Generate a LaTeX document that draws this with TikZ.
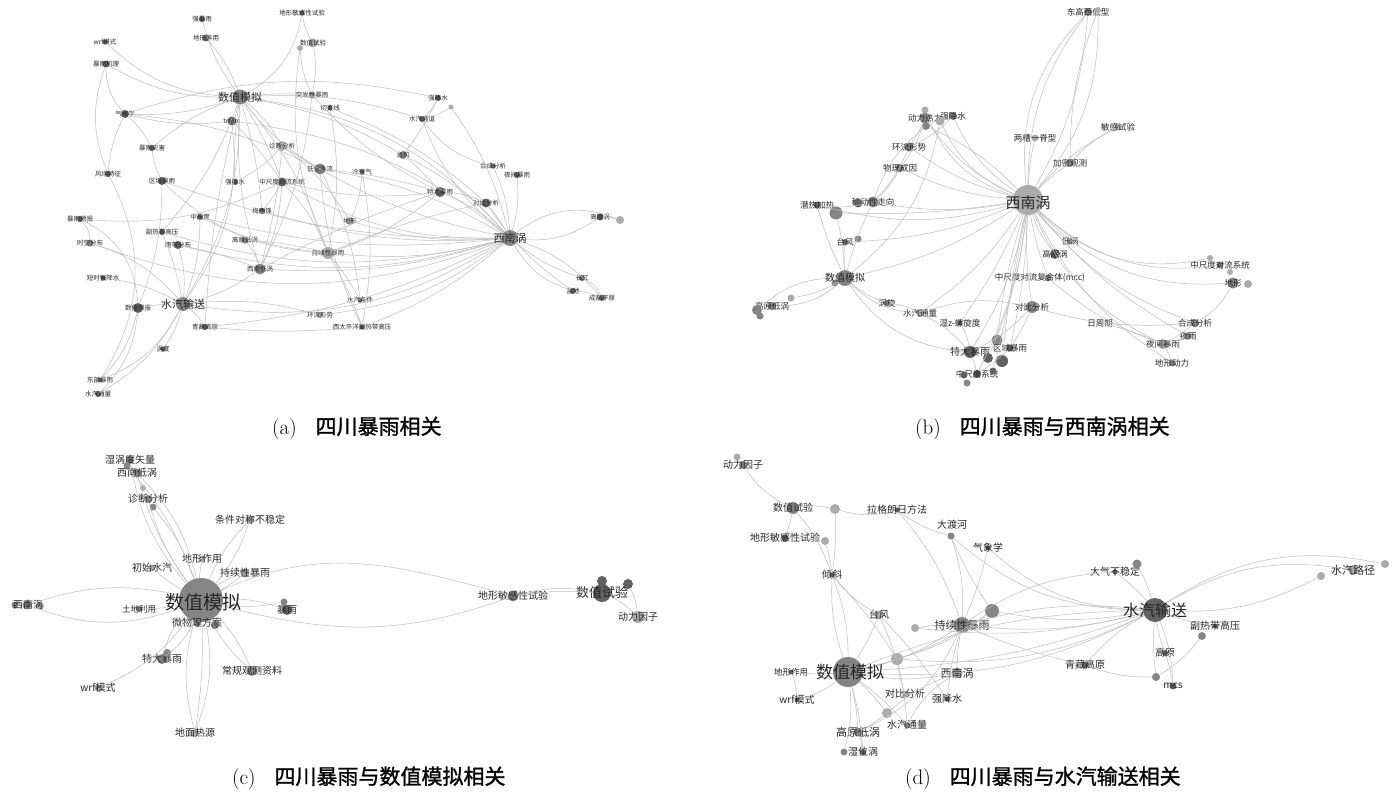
\documentclass[tikz,border=0pt]{standalone}
\usepackage{fontspec}
\newfontfamily\cjk{Noto Sans CJK SC}
\newfontfamily\cjkb{Noto Sans CJK SC}[FakeBold=1.3]
\definecolor{edgc}{gray}{0.74}
\tikzset{
  vd/.style={circle,inner sep=0pt,minimum size=#1,fill=black!62,draw=none},
  vm/.style={circle,inner sep=0pt,minimum size=#1,fill=black!48,draw=none},
  vl/.style={circle,inner sep=0pt,minimum size=#1,fill=black!33,draw=none},
  edg/.style={draw=edgc,line width=0.5pt},
  la/.style={font={\cjk\fontsize{6.5}{7}\selectfont},text=black!85,inner sep=0pt},
  lb/.style={font={\cjk\fontsize{8.5}{9}\selectfont},text=black!85,inner sep=0pt},
  lc/.style={font={\cjk\fontsize{10}{11}\selectfont},text=black!85,inner sep=0pt},
  lbig/.style={font={\cjk\fontsize{11}{12}\selectfont},text=black!85,inner sep=0pt},
  lhuge/.style={font={\cjk\fontsize{19}{20}\selectfont},text=black!85,inner sep=0pt},
  lmain/.style={font={\cjk\fontsize{17}{18}\selectfont},text=black!85,inner sep=0pt},
  captxt/.style={font={\fontsize{21}{22}\selectfont},text=black,inner sep=0pt}
}
\newcommand\V[6]{\node[#5=#4,label={[#6]center:#2}] (#1) at (#3) {};}
\newcommand\W[4]{\node[#4=#3] (#1) at (#2) {};}
\newcommand\E[3]{\draw[edg] (#1) to[bend left=#3] (#2);}
\begin{document}
\begin{tikzpicture}[x=1pt,y=-1pt]
\useasboundingbox[fill=white] (0,0) rectangle (1395,792);

% ================= (a) =================
\W{a1}{240,97}{15}{vm}
\V{a2}{trmm}{232,121}{9}{vd}{la}
\V{a3}{强暴雨}{202,19}{6}{vd}{la}
\V{a4}{地形作用}{206,38}{7}{vd}{la}
\V{a5}{地形敏感性试验}{302,13}{5}{vd}{la}
\V{a6}{数值试验}{313,43}{9}{vl}{la}
\W{a6b}{300,48}{6}{vl}
\V{a7}{wrf模式}{105,42}{5}{vd}{la}
\V{a8}{暴雨机理}{106,64}{7}{vd}{la}
\V{a9}{气候学}{125,114}{8}{vd}{la}
\V{a10}{突发性暴雨}{312,95}{7}{vl}{la}
\V{a11}{切变线}{330,108}{5}{vd}{la}
\V{a12}{暴雨灾害}{152,148}{6}{vd}{la}
\V{a13}{诊断分析}{282,146}{10}{vl}{la}
\V{a14}{风场特征}{108,174}{6}{vd}{la}
\V{a15}{区域暴雨}{162,181}{8}{vd}{la}
\V{a16}{强降水}{235,182}{6}{vd}{la}
\V{a17}{中尺度对流系统}{282,182}{9}{vd}{la}
\V{a18}{低空急流}{320,169}{11}{vm}{la}
\V{a19}{冷空气}{362,172}{5}{vd}{la}
\V{a20}{暴雨预报}{80,219}{6}{vd}{la}
\V{a21}{中尺度}{200,217}{6}{vd}{la}
\V{a22}{梅雨锋}{262,211}{6}{vd}{la}
\V{a23}{地形}{350,221}{8}{vl}{la}
\V{a24}{副热带高压}{162,232}{6}{vd}{la}
\V{a25}{高原低涡}{245,240}{7}{vm}{la}
\V{a26}{时空分布}{90,243}{7}{vm}{la}
\V{a27}{雨带分布}{178,245}{8}{vd}{la}
\V{a28}{持续性暴雨}{328,253}{12}{vl}{la}
\V{a29}{西南低涡}{260,269}{11}{vm}{la}
\V{a30}{短时强降水}{103,278}{5}{vd}{la}
\V{a31}{水汽条件}{360,300}{5}{vd}{la}
\V{a32}{数值预报}{138,308}{10}{vd}{la}
\W{a33}{183,304}{14}{vm}
\V{a34}{环流形势}{320,315}{6}{vl}{la}
\V{a35}{青藏高原}{205,327}{6}{vd}{la}
\V{a36}{西太平洋副热带高压}{362,327}{5}{vd}{la}
\V{a37}{涡度}{163,349}{5}{vd}{la}
\V{a38}{东部暴雨}{100,380}{5}{vd}{la}
\V{a39}{水汽通量}{98,394}{6}{vd}{la}
\V{a40}{强降水}{438,98}{6}{vd}{la}
\W{a41}{451,107}{5}{vl}
\V{a42}{水汽通道}{422,119}{6}{vd}{la}
\V{a43}{台风}{403,155}{8}{vm}{la}
\V{a44}{合成分析}{493,166}{5}{vd}{la}
\V{a45}{夜间暴雨}{517,175}{6}{vd}{la}
\V{a46}{特大暴雨}{440,192}{10}{vd}{la}
\V{a47}{对比分析}{486,203}{9}{vd}{la}
\W{a48}{510,238}{16}{vm}
\V{a49}{高原涡}{600,217}{7}{vd}{la}
\W{a50}{620,220}{8}{vl}
\V{a51}{长江}{582,278}{6}{vd}{la}
\V{a52}{盆地}{573,291}{6}{vd}{la}
\V{a53}{成都平原}{602,298}{6}{vd}{la}

\E{a1}{a3}{10}\E{a1}{a4}{-10}\E{a1}{a5}{-25}\E{a1}{a7}{20}\E{a1}{a8}{15}
\E{a1}{a9}{10}\E{a1}{a10}{5}\E{a1}{a13}{10}\E{a1}{a17}{5}\E{a1}{a16}{-5}
\E{a1}{a28}{10}\E{a1}{a29}{-10}\E{a1}{a33}{15}\E{a1}{a48}{20}\E{a1}{a18}{-10}
\E{a1}{a43}{10}\E{a1}{a24}{10}\E{a1}{a12}{-10}\E{a1}{a35}{-5}\E{a1}{a22}{5}
\E{a2}{a17}{5}\E{a2}{a33}{20}\E{a2}{a48}{15}\E{a2}{a9}{10}
\E{a9}{a8}{20}\E{a9}{a14}{-10}\E{a9}{a18}{10}\E{a9}{a40}{15}\E{a9}{a12}{10}
\E{a6}{a10}{10}\E{a6}{a5}{10}\E{a6b}{a28}{-15}\E{a6b}{a10}{-10}
\E{a10}{a29}{10}\E{a10}{a46}{-10}\E{a11}{a28}{10}\E{a11}{a47}{10}
\E{a13}{a29}{5}\E{a13}{a48}{-10}\E{a13}{a23}{10}\E{a13}{a16}{10}
\E{a15}{a32}{10}\E{a15}{a12}{10}\E{a15}{a28}{-20}\E{a15}{a48}{-10}
\E{a17}{a28}{10}\E{a17}{a29}{10}\E{a17}{a46}{-10}\E{a17}{a48}{-15}\E{a17}{a22}{5}
\E{a18}{a48}{10}\E{a18}{a46}{5}\E{a18}{a31}{10}\E{a18}{a36}{-10}
\E{a19}{a23}{10}\E{a19}{a36}{10}
\E{a20}{a26}{20}\E{a20}{a32}{30}\E{a20}{a17}{-15}
\E{a21}{a33}{10}\E{a21}{a28}{-10}\E{a21}{a48}{-10}
\E{a22}{a48}{-10}\E{a23}{a48}{-10}\E{a24}{a48}{-15}\E{a24}{a33}{5}
\E{a25}{a29}{10}\E{a25}{a28}{5}
\E{a27}{a33}{10}\E{a27}{a48}{-15}\E{a27}{a29}{5}
\E{a28}{a48}{-10}\E{a28}{a47}{5}\E{a28}{a46}{-10}\E{a28}{a36}{5}\E{a28}{a31}{5}
\E{a29}{a48}{-10}\E{a29}{a33}{10}\E{a29}{a46}{5}
\E{a30}{a33}{10}\E{a26}{a33}{15}\E{a26}{a48}{-20}
\E{a32}{a33}{5}\E{a32}{a38}{15}\E{a32}{a39}{20}\E{a33}{a38}{20}\E{a33}{a39}{15}
\E{a33}{a48}{-20}\E{a33}{a35}{10}\E{a33}{a37}{10}\E{a35}{a48}{-10}\E{a35}{a36}{-5}
\E{a34}{a48}{-15}\E{a34}{a33}{-10}\E{a36}{a48}{-10}
\E{a40}{a42}{10}\E{a42}{a1}{-10}\E{a42}{a48}{-15}\E{a41}{a48}{10}\E{a41}{a42}{10}\E{a40}{a43}{5}
\E{a43}{a48}{10}\E{a43}{a46}{5}\E{a44}{a48}{10}\E{a45}{a48}{10}\E{a44}{a42}{20}
\E{a46}{a48}{10}\E{a47}{a48}{5}\E{a46}{a47}{10}
\E{a48}{a49}{-20}\E{a48}{a50}{30}\E{a49}{a50}{10}
\E{a48}{a51}{-10}\E{a48}{a52}{-20}\E{a48}{a53}{15}\E{a51}{a53}{20}\E{a52}{a53}{10}\E{a47}{a52}{-10}
\E{a14}{a38}{30}\E{a8}{a14}{-20}

\node[lbig] (a1t) at (240,97) {数值模拟};
\node[lbig] (a33t) at (183,304) {水汽输送};
\node[lbig] (a48t) at (510,238) {西南涡};

% ================= (b) =================
\V{b1}{东高西低型}{1088,12}{8}{vm}{lb}
\W{b1b}{1098,10}{6}{vl}
\V{b2}{动力热力}{925,118}{11}{vm}{lb}
\W{b2b}{926,126}{8}{vm}
\W{b2c}{925,110}{7}{vl}
\V{b3}{强降水}{953,116}{8}{vm}{lb}
\W{b3b}{940,121}{9}{vl}
\V{b4}{两槽一脊型}{1035,138}{7}{vl}{lb}
\V{b5}{敏感试验}{1118,127}{7}{vl}{lb}
\V{b6}{环流形势}{909,147}{9}{vm}{lb}
\V{b7}{加密观测}{1070,163}{8}{vm}{lb}
\V{b8}{物理成因}{900,168}{8}{vm}{lb}
\W{b9}{1028,200}{30}{vl}
\V{b10}{移动性走向}{873,202}{11}{vm}{lb}
\W{b10b}{858,203}{9}{vd}
\V{b11}{潜热加热}{817,205}{7}{vd}{lb}
\W{b11b}{836,213}{13}{vm}
\V{b12}{台风}{845,242}{6}{vd}{lb}
\W{b12b}{858,239}{7}{vm}
\W{b13}{845,278}{16}{vm}
\W{b13b}{835,283}{7}{vm}
\V{b14}{高原低涡}{772,306}{8}{vm}{lb}
\W{b14b}{757,310}{10}{vm}
\W{b14c}{760,316}{7}{vm}
\W{b14d}{791,298}{7}{vl}
\V{b15}{涡旋}{887,303}{6}{vm}{lb}
\V{b16}{水汽通量}{920,313}{8}{vl}{lb}
\V{b17}{湿z-螺旋度}{960,323}{5}{vd}{lb}
\V{b18}{对比分析}{1032,307}{12}{vm}{lb}
\V{b19}{特大暴雨}{970,352}{12}{vd}{lc}
\W{b19b}{997,340}{11}{vm}
\W{b19c}{1002,361}{12}{vd}
\W{b19d}{988,358}{10}{vd}
\V{b20}{区域暴雨}{1010,348}{7}{vd}{lb}
\V{b21}{中尺度系统}{977,374}{8}{vd}{lb}
\W{b21b}{964,375}{7}{vd}
\W{b21c}{967,383}{7}{vm}
\W{b21d}{993,371}{7}{vd}
\V{b22}{高原涡}{1055,254}{10}{vd}{lb}
\V{b23}{低涡}{1070,241}{6}{vm}{lb}
\W{b24}{1048,278}{7}{vm}
\node[lb] (b24t) at (1040,278) {中尺度对流复合体(mcc)};
\V{b25}{中尺度对流系统}{1220,265}{7}{vm}{lb}
\W{b25b}{1210,258}{6}{vl}
\W{b25c}{1230,272}{6}{vl}
\V{b26}{地形}{1233,283}{11}{vm}{lb}
\W{b26b}{1248,284}{8}{vl}
\V{b27}{合成分析}{1195,323}{8}{vm}{lb}
\V{b28}{夜雨}{1188,336}{7}{vm}{lb}
\V{b29}{夜间暴雨}{1163,344}{10}{vl}{lb}
\V{b30}{地形动力}{1172,363}{7}{vm}{lb}
\V{b31}{日周期}{1100,323}{3}{vl}{lb}

\E{b9}{b1}{25}\E{b9}{b1}{18}\E{b9}{b1b}{-20}\E{b7}{b1b}{10}\E{b9}{b1}{-12}
\E{b9}{b2}{15}\E{b9}{b3}{15}\E{b9}{b2b}{-10}\E{b9}{b6}{10}\E{b9}{b8}{10}
\E{b9}{b10}{10}\E{b9}{b11}{15}\E{b9}{b13}{10}\E{b9}{b4}{5}\E{b9}{b5}{10}
\E{b9}{b7}{5}\E{b9}{b12}{10}\E{b9}{b3b}{20}\E{b9}{b11b}{5}\E{b9}{b2c}{25}
\E{b9}{b19}{10}\E{b9}{b19b}{-5}\E{b9}{b20}{5}\E{b9}{b21}{10}\E{b9}{b18}{-5}
\E{b9}{b22}{-10}\E{b9}{b23}{-10}\E{b9}{b24}{-5}\E{b9}{b16}{10}\E{b9}{b17}{5}
\E{b9}{b19c}{-3}\E{b9}{b21d}{2}\E{b9}{b19d}{8}
\E{b9}{b25}{-25}\E{b9}{b26}{-25}\E{b9}{b25b}{-28}\E{b9}{b27}{-15}\E{b9}{b29}{-20}\E{b9}{b30}{-15}\E{b9}{b28}{-10}
\E{b13}{b14}{20}\E{b13}{b14b}{-20}\E{b13}{b16}{-20}\E{b13}{b15}{-10}\E{b13}{b11}{5}
\E{b13}{b10}{5}\E{b13}{b12}{5}\E{b13}{b11b}{-5}\E{b13}{b14d}{10}
\E{b16}{b19}{10}\E{b15}{b16}{10}\E{b17}{b19}{10}\E{b18}{b19}{10}\E{b18}{b20}{5}
\E{b19}{b21}{5}\E{b20}{b21}{5}\E{b16}{b18}{15}\E{b13}{b19}{-25}
\E{b26}{b27}{15}\E{b27}{b29}{5}\E{b28}{b29}{5}\E{b29}{b30}{5}\E{b24}{b29}{-10}\E{b31}{b29}{5}\E{b18}{b27}{-10}
\E{b2}{b6}{5}\E{b2}{b8}{10}\E{b3}{b6}{10}\E{b6}{b10}{10}\E{b8}{b10}{10}\E{b10}{b11}{10}\E{b10}{b2b}{15}
\E{b3b}{b13}{20}\E{b5}{b7}{-10}

\node[lmain,font={\cjk\fontsize{15}{16}\selectfont}] (b9t) at (1028,203) {西南涡};
\node[lc] (b13t) at (845,278) {数值模拟};

% ================= (c) =================
\W{c1}{201,600}{44}{vm}
\V{c2}{湿涡度矢量}{130,460}{8}{vm}{lc}
\W{c2b}{127,466}{7}{vm}
\V{c3}{西南低涡}{137,473}{9}{vm}{lc}
\V{c4}{诊断分析}{148,499}{8}{vm}{lc}
\W{c4b}{143,488}{6}{vl}
\W{c4c}{153,507}{7}{vm}
\V{c5}{条件对称不稳定}{250,520}{8}{vl}{lc}
\V{c6}{地形作用}{202,559}{7}{vl}{lc}
\V{c7}{初始水汽}{152,568}{6}{vl}{lc}
\V{c8}{持续性暴雨}{245,573}{9}{vl}{lc}
\W{c9}{27,605}{9}{vm}
\W{c9b}{15,605}{7}{vm}
\W{c9c}{40,606}{8}{vl}
\node[lc] (c9t) at (28,605) {西南涡};
\V{c10}{土地利用}{139,609}{6}{vm}{lb}
\V{c11}{暴雨}{287,610}{10}{vd}{lc}
\W{c11b}{284,602}{7}{vm}
\V{c12}{微物理方案}{197,623}{7}{vm}{lc}
\W{c12b}{215,625}{8}{vd}
\V{c13}{特大暴雨}{162,659}{10}{vm}{lc}
\W{c13b}{167,653}{8}{vm}
\V{c14}{常规观测资料}{252,671}{10}{vm}{lc}
\V{c15}{wrf模式}{98,688}{7}{vl}{lc}
\V{c16}{地面热源}{195,733}{8}{vl}{lc}
\W{c17}{513,596}{11}{vm}
\node[lc] (c17t) at (513,596) {地形敏感性试验};
\W{c18}{602,593}{18}{vd}
\W{c18b}{602,581}{10}{vd}
\W{c18c}{628,584}{10}{vd}
\node[lbig,font={\cjk\fontsize{13}{14}\selectfont}] (c18t) at (602,593) {数值试验};
\V{c19}{动力因子}{638,617}{12}{vl}{lc}

\E{c1}{c2}{15}\E{c1}{c2b}{-10}\E{c1}{c3}{10}\E{c1}{c3}{-15}\E{c1}{c4}{10}\E{c1}{c4c}{-10}
\E{c1}{c5}{10}\E{c1}{c5}{-10}\E{c1}{c6}{5}\E{c1}{c7}{5}\E{c1}{c8}{10}\E{c1}{c8}{-5}
\E{c1}{c9}{20}\E{c1}{c9}{-15}\E{c1}{c10}{5}\E{c1}{c11}{10}\E{c1}{c11b}{-10}
\E{c1}{c12}{5}\E{c1}{c12b}{-5}\E{c1}{c13}{15}\E{c1}{c13}{-15}\E{c1}{c14}{10}\E{c1}{c14}{-10}
\E{c1}{c15}{15}\E{c1}{c16}{15}\E{c1}{c16}{-15}\E{c1}{c16}{5}
\draw[edg] (c1) to[out=25,in=165] (c17);
\draw[edg] (c1) to[out=-15,in=200] (c17);
\E{c17}{c18}{12}\E{c17}{c18}{6}\E{c18}{c19}{10}\E{c18c}{c19}{10}

\node[lhuge] (c1t) at (203,602) {数值模拟};

% ================= (d) =================
\V{d1}{动力因子}{743,465}{8}{vm}{lc}
\W{d1b}{737,457}{7}{vl}
\V{d2}{数值试验}{793,508}{12}{vm}{lc}
\W{d3}{835,509}{10}{vl}
\V{d4}{拉格朗日方法}{897,510}{5}{vd}{lc}
\V{d5}{地形敏感性试验}{785,538}{7}{vd}{lc}
\W{d6}{825,541}{8}{vl}
\node[lc] (d7t) at (952,525) {大渡河};
\W{d7}{951,536}{7}{vm}
\V{d8}{气象学}{988,548}{5}{vd}{lc}
\V{d9}{倾斜}{832,575}{5}{vd}{lc}
\V{d10}{台风}{879,615}{9}{vl}{lc}
\W{d11}{915,628}{8}{vl}
\V{d12}{持续性暴雨}{962,625}{16}{vm}{lbig}
\W{d13}{992,611}{14}{vm}
\W{d14}{897,659}{12}{vl}
\W{d15}{848,672}{30}{vm}
\V{d16}{地形作用}{791,672}{5}{vd}{lb}
\V{d17}{西南涡}{957,673}{11}{vl}{lbig}
\V{d18}{对比分析}{905,694}{6}{vl}{lc}
\V{d19}{强降水}{947,699}{5}{vd}{lc}
\V{d20}{wrf模式}{797,700}{5}{vd}{lc}
\W{d21}{887,713}{10}{vl}
\V{d22}{水汽通量}{907,725}{6}{vm}{lc}
\V{d23}{高原低涡}{858,732}{9}{vm}{lbig}
\V{d24}{湿位涡}{863,752}{6}{vd}{lc}
\W{d24b}{844,752}{7}{vm}
\V{d25}{大气不稳定}{1115,572}{5}{vd}{lc}
\W{d25b}{1137,564}{9}{vm}
\W{d26}{1155,610}{24}{vd}
\V{d27}{水汽路径}{1353,570}{10}{vl}{lbig}
\W{d27b}{1385,564}{8}{vl}
\W{d27c}{1321,576}{8}{vl}
\V{d28}{副热带高压}{1215,626}{5}{vd}{lc}
\W{d28b}{1202,636}{8}{vm}
\V{d29}{高原}{1165,653}{6}{vd}{lc}
\V{d30}{青藏高原}{1085,665}{7}{vd}{lc}
\W{d31}{1156,677}{8}{vm}
\V{d32}{mcs}{1173,686}{7}{vd}{lc}

\E{d1}{d2}{-15}\E{d2}{d3}{10}\E{d2}{d5}{5}\E{d3}{d4}{-15}\E{d3}{d9}{5}\E{d5}{d6}{5}
\E{d6}{d9}{5}\E{d2}{d9}{10}\E{d9}{d15}{10}\E{d9}{d15}{-10}\E{d9}{d10}{-10}\E{d9}{d14}{5}
\E{d4}{d7}{-10}\E{d4}{d12}{10}\E{d7}{d12}{10}\E{d7}{d26}{-20}\E{d8}{d12}{5}\E{d8}{d26}{-20}
\E{d7}{d13}{-5}\E{d10}{d15}{5}\E{d10}{d22}{10}\E{d10}{d19}{5}\E{d11}{d26}{-10}
\E{d12}{d15}{10}\E{d12}{d26}{-10}\E{d12}{d26}{10}\E{d13}{d15}{10}\E{d13}{d26}{-10}
\E{d14}{d15}{5}\E{d14}{d26}{-15}\E{d15}{d26}{-15}\E{d15}{d26}{10}\E{d15}{d26}{-8}
\E{d15}{d16}{5}\E{d15}{d20}{10}\E{d15}{d23}{5}\E{d15}{d17}{-10}\E{d15}{d22}{5}
\E{d15}{d21}{5}\E{d15}{d24}{5}\E{d23}{d24}{5}\E{d17}{d12}{5}\E{d17}{d22}{-15}
\E{d18}{d14}{5}\E{d19}{d12}{5}\E{d21}{d23}{5}\E{d23}{d12}{-20}\E{d25}{d26}{5}
\E{d25}{d12}{-15}\E{d25b}{d26}{5}\E{d26}{d27}{20}\E{d26}{d27b}{22}\E{d26}{d27c}{-15}\E{d28}{d26}{5}
\E{d29}{d26}{5}\E{d30}{d26}{10}\E{d30}{d12}{5}\E{d31}{d26}{5}\E{d32}{d26}{-10}
\E{d29}{d32}{5}\E{d30}{d31}{-10}\E{d28b}{d31}{10}\E{d16}{d20}{10}\E{d11}{d12}{5}
\E{d24b}{d15}{-10}\E{d21}{d17}{10}\E{d14}{d13}{-10}

\node[lmain] (d15t) at (850,672) {数值模拟};
\node[lmain,font={\cjk\fontsize{16}{17}\selectfont}] (d26t) at (1155,610) {水汽输送};

% ================= captions =================
\node[captxt,anchor=west] (capa) at (272,428) {(a)\hspace{0.9em}{\cjkb 四川暴雨相关}};
\node[captxt,anchor=west] (capb) at (915,428) {(b)\hspace{0.9em}{\cjkb 四川暴雨与西南涡相关}};
\node[captxt,anchor=west] (capc) at (232,778) {(c)\hspace{0.9em}{\cjkb 四川暴雨与数值模拟相关}};
\node[captxt,anchor=west] (capd) at (905,778) {(d)\hspace{0.9em}{\cjkb 四川暴雨与水汽输送相关}};
\end{tikzpicture}
\end{document}
